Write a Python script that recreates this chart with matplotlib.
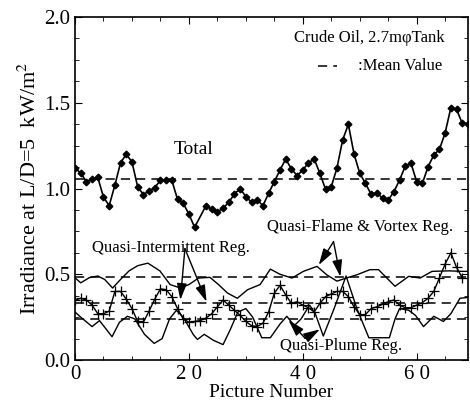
import matplotlib
matplotlib.use("Agg")
import matplotlib.pyplot as plt
from matplotlib.ticker import MultipleLocator

plt.rcParams['font.family'] = ['Liberation Serif', 'DejaVu Serif']
plt.rcParams['mathtext.fontset'] = 'stix'

# Total irradiance (picture 22 has no marker in the original)
total_x = list(range(0, 22)) + list(range(23, 70))
total_y = [1.12, 1.09, 1.04, 1.055, 1.065, 0.95, 0.90, 1.02, 1.15, 1.20,
           1.155, 1.01, 0.965, 0.985, 1.005, 1.048, 1.048, 1.048, 0.937, 0.914,
           0.851, 0.774,
           0.90, 0.88, 0.865, 0.884, 0.92, 0.968, 1.0, 0.952, 0.92, 0.933,
           0.90, 0.972, 1.04, 1.108, 1.172, 1.114, 1.075, 1.108, 1.15, 1.172,
           1.089, 0.995, 1.01, 1.12, 1.283, 1.374, 1.201, 1.089, 1.03, 0.966,
           0.976, 0.943, 0.933, 0.981, 1.05, 1.131, 1.147, 1.04, 1.03, 1.127,
           1.195, 1.228, 1.325, 1.471, 1.462, 1.38, 1.376]

# Quasi-Intermittent region (plus markers)
inter_x = list(range(0, 69))
inter_y = [0.35, 0.36, 0.35, 0.32, 0.27, 0.27, 0.285, 0.40, 0.40, 0.355,
           0.30, 0.225, 0.22, 0.285, 0.355, 0.415, 0.41, 0.37, 0.30, 0.24,
           0.22, 0.225, 0.23, 0.245, 0.27, 0.31, 0.35, 0.32, 0.29, 0.26,
           0.225, 0.20, 0.195, 0.215, 0.28, 0.39, 0.435, 0.38, 0.33, 0.34,
           0.32, 0.305, 0.28, 0.33, 0.37, 0.385, 0.40, 0.40, 0.37, 0.31,
           0.265, 0.265, 0.30, 0.31, 0.325, 0.34, 0.35, 0.32, 0.305, 0.305,
           0.32, 0.335, 0.36, 0.40, 0.48, 0.56, 0.625, 0.54, 0.48]

# Quasi-Flame & Vortex region
flame_x = [0, 1, 2.5, 4, 5.2, 6.6, 8, 9.5, 11, 12.8, 14.9, 16.7, 18.5, 20,
           21.7, 23.7, 25.2, 26.8, 28.5, 30.3, 32.5, 34.3, 36, 38.1, 40.1,
           42.5, 44.2, 46, 48, 49.5, 51.8, 53.3, 56.2, 58.6, 60.6, 62.7,
           65.6, 68, 69]
flame_y = [0.48, 0.45, 0.48, 0.49, 0.47, 0.42, 0.47, 0.52, 0.55, 0.565,
           0.52, 0.44, 0.42, 0.44, 0.478, 0.482, 0.44, 0.39, 0.36, 0.41,
           0.44, 0.53, 0.50, 0.478, 0.517, 0.546, 0.497, 0.46, 0.482, 0.497,
           0.527, 0.527, 0.43, 0.488, 0.478, 0.517, 0.52, 0.517, 0.517]

# Quasi-Plume region
plume_x = [0, 1, 3, 4.3, 6.5, 7.8, 9.2, 10.5, 12.2, 13.9, 15.3, 16.6, 17.8,
           19, 20.8, 21.5, 22.7, 24.3, 26, 27.3, 28.6, 30, 31.2, 32.8, 34.3,
           36, 37.2, 38.5, 39.7, 41.2, 42.2, 43.6, 45.5, 47.6, 49.5, 51.6,
           55.2, 56.2, 57, 58.6, 59.8, 61.2, 63, 64.7, 66, 67.6, 69]
plume_y = [0.28, 0.25, 0.195, 0.23, 0.136, 0.22, 0.255, 0.24, 0.15, 0.097,
           0.125, 0.24, 0.29, 0.25, 0.147, 0.12, 0.15, 0.115, 0.09, 0.18,
           0.28, 0.30, 0.25, 0.13, 0.13, 0.21, 0.255, 0.20, 0.24, 0.32,
           0.27, 0.14, 0.30, 0.49, 0.30, 0.13, 0.13, 0.24, 0.30, 0.29,
           0.26, 0.195, 0.255, 0.225, 0.27, 0.36, 0.365]

mean_values = [1.055, 0.486, 0.33, 0.237]

fig = plt.figure(figsize=(4.7, 4.11), dpi=100)
ax = fig.add_axes([0.1596, 0.124, 0.836, 0.8346])

dash = (0, (6, 4))
for m in mean_values:
    ax.axhline(m, color='black', lw=1.1, linestyle=dash)

ax.plot(total_x, total_y, color='black', lw=1.2, marker='D', ms=3.4)
ax.plot(flame_x, flame_y, color='black', lw=1.0)
ax.plot(plume_x, plume_y, color='black', lw=1.0)
ax.plot(inter_x, inter_y, color='black', lw=1.0, marker='+', ms=7, mew=0.9)

ax.set_xlim(0, 69)
ax.set_ylim(0, 2.0)
ax.set_xticks([0, 20, 40, 60])
ax.set_xticklabels(['0', '2 0', '4 0', '6 0'])
ax.set_yticks([0, 0.5, 1.0, 1.5, 2.0])
ax.set_yticklabels(['0.0', '0.5', '1.0', '1.5', '2.0'])
ax.xaxis.set_minor_locator(MultipleLocator(5))
ax.yaxis.set_minor_locator(MultipleLocator(0.125))
ax.tick_params(which='both', direction='in', top=True, right=True, labelsize=15)
ax.tick_params(which='major', length=5)
ax.tick_params(which='minor', length=3)
for s in ax.spines.values():
    s.set_linewidth(1.2)

ax.set_xlabel('Picture Number', fontsize=14, labelpad=0)
ax.set_ylabel('Irradiance at L/D=5  kW/m$^2$', fontsize=16, labelpad=2)

ax.text(64.9, 1.875, 'Crude Oil, 2.7m\u03c6Tank', fontsize=12, ha='right', va='center')
ax.plot([42.7, 46.0], [1.715, 1.715], color='black', lw=1.1, linestyle=dash)
ax.text(49.7, 1.715, ':Mean Value', fontsize=12, ha='left', va='center')

ax.text(20.8, 1.23, 'Total', fontsize=14, ha='center', va='center')
ax.text(50.1, 0.775, 'Quasi-Flame & Vortex Reg.', fontsize=12, ha='center', va='center')
ax.text(16.9, 0.655, 'Quasi-Intermittent Reg.', fontsize=12, ha='center', va='center')
ax.text(46.8, 0.08, 'Quasi-Plume Reg.', fontsize=12, ha='center', va='center')

arrow = dict(arrowstyle='-|>,head_length=1.0,head_width=0.3', color='black', lw=1.0,
             shrinkA=0, shrinkB=0)
for tip in [(42.8, 0.554), (46.6, 0.486)]:
    ax.annotate('', xy=tip, xytext=(45.4, 0.69), arrowprops=arrow)
for tip in [(18.5, 0.35), (23.1, 0.34)]:
    ax.annotate('', xy=tip, xytext=(19.3, 0.65), arrowprops=arrow)
for tip in [(37.5, 0.233), (43.0, 0.179)]:
    ax.annotate('', xy=tip, xytext=(40.4, 0.127), arrowprops=arrow)

fig.savefig('out.png', dpi=100)
